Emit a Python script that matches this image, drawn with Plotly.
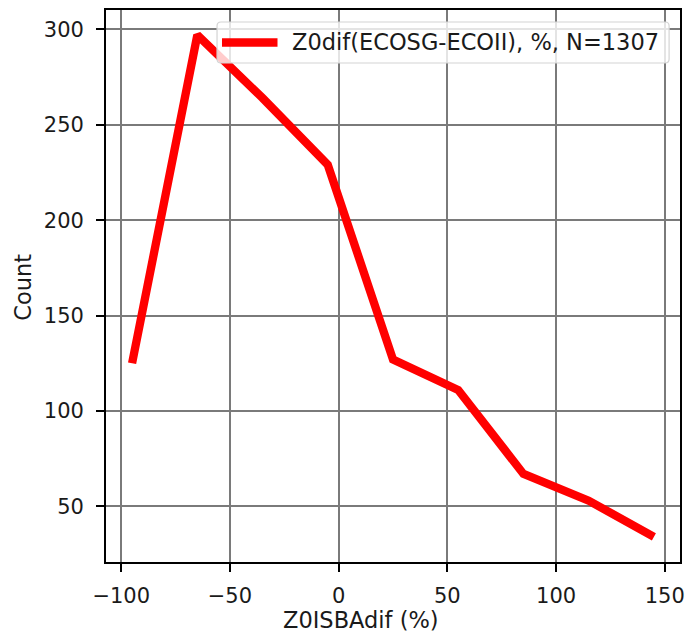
import plotly.graph_objects as go

# Histogram of Z0 differences, bin centres (%) and counts per bin
bin_centers = [-95, -65, -35, -5, 25, 55, 85, 115, 145]
counts = [125, 297, 264, 229, 127, 111, 67, 53, 34]
series_name = "Z0dif(ECOSG-ECOII), %, N=1307"

x_ticks = [-100, -50, 0, 50, 100, 150]
y_ticks = [50, 100, 150, 200, 250, 300]

FONT = "DejaVu Sans"
FS_TICK = 21
FS_LABEL = 22.5
TXT = "#1a1a1a"
RED = "#ff0000"

# plot-area geometry in pixels (used to place the legend box)
W, H = 693, 633
L, R, T, B = 106, 8, 10, 71
PW, PH = W - L - R, H - T - B


def px(xp):
    return (xp - L) / PW


def py(yp):
    return (H - B - yp) / PH


fig = go.Figure()
fig.add_trace(go.Scatter(
    x=bin_centers, y=counts, mode="lines", name=series_name,
    line=dict(color=RED, width=8.3), showlegend=False,
))

axis_common = dict(
    showline=True, linecolor="black", linewidth=1.7, mirror=True,
    showgrid=True, gridcolor="#7a7a7a", gridwidth=1.5,
    ticks="outside", ticklen=8, tickwidth=1.6, tickcolor="black",
    tickfont=dict(family=FONT, size=FS_TICK, color=TXT),
    zeroline=False,
)

fig.update_xaxes(range=[-107, 157], tickvals=x_ticks,
                 ticktext=[("\u2212" + str(-v)) if v < 0 else str(v) for v in x_ticks],
                 ticklabelstandoff=6, **axis_common)
fig.update_yaxes(range=[20.85, 310.15], tickvals=y_ticks,
                 ticklabelstandoff=8, **axis_common)

# legend frame with rounded corners, drawn in paper coordinates
bx0, bx1, by0, by1, rad = 218, 674, 22, 63, 4
path = (
    f"M {px(bx0 + rad)},{py(by0)} L {px(bx1 - rad)},{py(by0)} "
    f"Q {px(bx1)},{py(by0)} {px(bx1)},{py(by0 + rad)} "
    f"L {px(bx1)},{py(by1 - rad)} "
    f"Q {px(bx1)},{py(by1)} {px(bx1 - rad)},{py(by1)} "
    f"L {px(bx0 + rad)},{py(by1)} "
    f"Q {px(bx0)},{py(by1)} {px(bx0)},{py(by1 - rad)} "
    f"L {px(bx0)},{py(by0 + rad)} "
    f"Q {px(bx0)},{py(by0)} {px(bx0 + rad)},{py(by0)} Z"
)
legend_mid = (by0 + by1) / 2

fig.update_layout(
    width=W, height=H,
    margin=dict(l=L, r=R, t=T, b=B),
    paper_bgcolor="white", plot_bgcolor="white",
    font=dict(family=FONT, size=FS_TICK, color=TXT),
    shapes=[
        dict(type="path", path=path, xref="paper", yref="paper",
             fillcolor="rgba(255,255,255,0.8)",
             line=dict(color="#d4d4d4", width=1.2), layer="above"),
        dict(type="line", xref="paper", yref="paper",
             x0=px(223), x1=px(279), y0=py(legend_mid), y1=py(legend_mid),
             line=dict(color=RED, width=8.3), layer="above"),
    ],
    annotations=[
        dict(text=series_name, xref="paper", yref="paper",
             x=px(292), y=py(legend_mid), xanchor="left", yanchor="middle",
             showarrow=False, font=dict(family=FONT, size=FS_LABEL, color=TXT)),
        dict(text="Z0ISBAdif (%)", xref="paper", yref="paper",
             x=px(363), y=py(620),
             xanchor="center", yanchor="middle", showarrow=False,
             font=dict(family=FONT, size=FS_LABEL, color=TXT)),
        dict(text="Count", xref="paper", yref="paper",
             x=px(22), y=py(287), textangle=-90,
             xanchor="center", yanchor="middle", showarrow=False,
             font=dict(family=FONT, size=FS_LABEL, color=TXT)),
    ],
)

fig.write_html("out.html")
